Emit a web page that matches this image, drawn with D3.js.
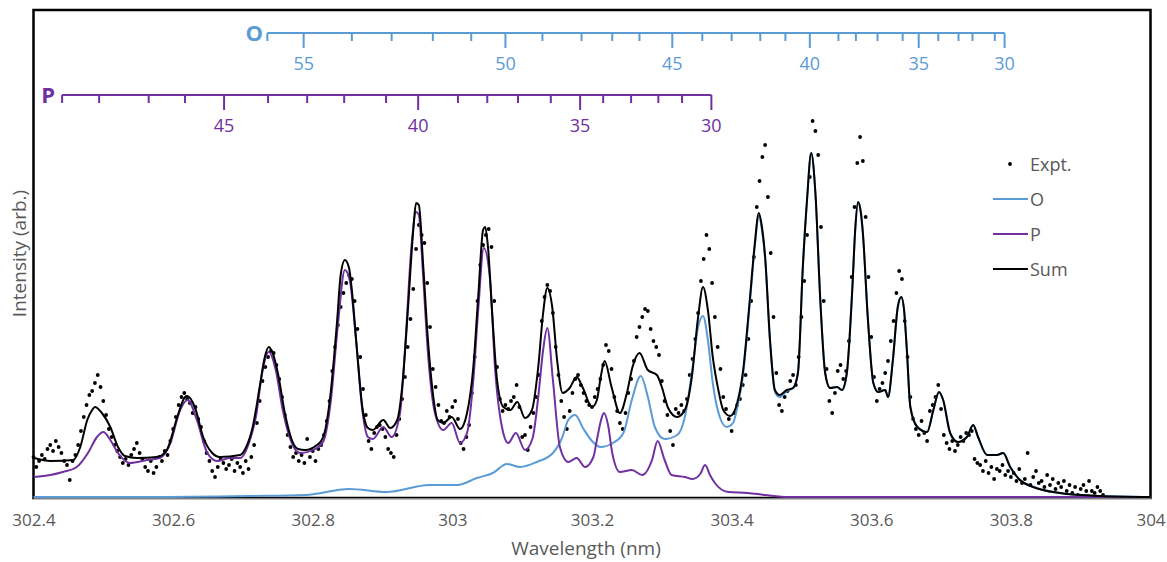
<!DOCTYPE html>
<html>
<head>
<meta charset="utf-8">
<script src="https://cdn.jsdelivr.net/npm/d3@7"></script>
<style>
  body { margin: 0; background: #fff; }
  text { font-family: "Open Sans", "Noto Sans", sans-serif; }
</style>
</head>
<body>
<svg id="chart" width="1167" height="562"></svg>
<script>
// x tick labels of the wavelength axis (nm)
const xTicks = [302.4, 302.6, 302.8, 303, 303.2, 303.4, 303.6, 303.8, 304];

// rotational line positions, O branch (J, nm)
const oLineJ  = [56, 55, 54, 53, 52, 51, 50, 49, 48, 47, 46, 45, 44, 43, 42, 41, 40, 39, 38, 37, 36, 35, 34, 33, 32, 31, 30];
const oLineWl = [302.735, 302.787, 302.856, 302.913, 302.972, 303.027, 303.076, 303.129, 303.185, 303.229, 303.268, 303.315, 303.358, 303.400, 303.441, 303.477, 303.512, 303.553, 303.578, 303.609, 303.645, 303.668, 303.696, 303.725, 303.745, 303.777, 303.791];

// rotational line positions, P branch (J, nm)
const pLineJ  = [49, 48, 47, 46, 45, 44, 43, 42, 41, 40, 39, 38, 37, 36, 35, 34, 33, 32, 31, 30];
const pLineWl = [302.441, 302.494, 302.565, 302.617, 302.673, 302.736, 302.792, 302.845, 302.905, 302.951, 303.008, 303.050, 303.094, 303.141, 303.183, 303.216, 303.256, 303.295, 303.329, 303.371];

// simulated O branch [nm, intensity]
const oCurve = [
  [302.400, 0], [302.567, 0], [302.710, 1], [302.790, 2], [302.852, 8], [302.906, 5], [302.967, 12],
  [303.007, 12], [303.035, 19], [303.058, 24], [303.078, 33], [303.097, 30], [303.121, 35], [303.144, 44],
  [303.157, 59], [303.166, 77], [303.176, 82], [303.187, 69], [303.200, 56], [303.212, 50], [303.230, 54],
  [303.245, 64], [303.257, 97], [303.270, 121], [303.280, 100], [303.290, 70], [303.304, 58], [303.322, 62],
  [303.333, 80], [303.343, 124], [303.352, 170], [303.359, 181], [303.366, 157], [303.373, 114], [303.383, 80],
  [303.393, 70], [303.402, 74], [303.408, 89], [303.416, 120], [303.426, 193], [303.433, 249], [303.439, 281],
  [303.443, 269], [303.448, 238], [303.455, 155], [303.462, 105], [303.469, 100], [303.479, 106], [303.488, 109],
  [303.495, 124], [303.502, 230], [303.508, 297], [303.514, 344], [303.520, 304], [303.527, 197], [303.534, 124],
  [303.541, 109], [303.551, 110], [303.558, 107], [303.565, 124], [303.573, 210], [303.577, 267], [303.581, 295],
  [303.585, 285], [303.588, 264], [303.595, 180], [303.603, 114], [303.610, 105], [303.620, 107], [303.624, 100],
  [303.631, 137], [303.638, 190], [303.643, 200], [303.647, 187], [303.651, 147], [303.656, 90], [303.666, 70],
  [303.680, 65], [303.689, 87], [303.697, 105], [303.703, 97], [303.713, 64], [303.724, 55], [303.737, 60],
  [303.746, 72], [303.753, 60], [303.766, 42], [303.780, 42], [303.789, 44], [303.799, 30], [303.813, 17],
  [303.832, 10], [303.870, 4], [303.928, 1], [304.000, 0]
];

// simulated P branch [nm, intensity]
const pCurve = [
  [302.401, 20], [302.424, 22], [302.442, 25], [302.462, 30], [302.478, 44], [302.491, 60], [302.500, 65],
  [302.510, 57], [302.521, 44], [302.538, 34], [302.563, 37], [302.581, 39], [302.596, 54], [302.610, 87],
  [302.621, 97], [302.634, 77], [302.649, 44], [302.663, 36], [302.682, 39], [302.696, 39], [302.710, 57],
  [302.719, 82], [302.727, 122], [302.737, 145], [302.747, 127], [302.757, 87], [302.770, 54], [302.782, 44],
  [302.806, 49], [302.816, 57], [302.826, 97], [302.836, 172], [302.846, 227], [302.853, 217], [302.862, 157],
  [302.871, 87], [302.879, 60], [302.886, 58], [302.901, 70], [302.913, 60], [302.925, 84], [302.933, 157],
  [302.941, 247], [302.948, 285], [302.952, 282], [302.958, 222], [302.965, 144], [302.975, 84], [302.987, 67],
  [302.999, 74], [303.011, 54], [303.021, 64], [303.030, 117], [303.037, 187], [303.045, 249], [303.054, 217],
  [303.061, 130], [303.071, 70], [303.080, 54], [303.091, 64], [303.104, 47], [303.115, 59], [303.123, 100],
  [303.130, 147], [303.136, 169], [303.144, 117], [303.154, 50], [303.166, 35], [303.178, 39], [303.190, 30],
  [303.202, 40], [303.207, 57], [303.213, 77], [303.217, 84], [303.223, 72], [303.229, 44], [303.240, 25],
  [303.257, 27], [303.272, 22], [303.286, 37], [303.294, 56], [303.304, 37], [303.314, 22], [303.333, 20],
  [303.344, 18], [303.355, 23], [303.362, 32], [303.369, 22], [303.376, 14], [303.395, 5], [303.423, 4],
  [303.448, 2], [303.481, 0], [304.000, 0]
];

// fitted sum [nm, intensity]
const sumCurve = [
  [302.401, 39], [302.424, 36], [302.457, 37], [302.467, 50], [302.477, 77], [302.484, 87], [302.488, 90],
  [302.498, 84], [302.510, 70], [302.521, 50], [302.531, 41], [302.548, 39], [302.577, 40], [302.591, 47],
  [302.606, 80], [302.617, 100], [302.620, 101], [302.631, 90], [302.643, 60], [302.656, 44], [302.667, 40],
  [302.696, 42], [302.704, 49], [302.714, 70], [302.724, 110], [302.731, 139], [302.737, 150], [302.742, 145],
  [302.750, 124], [302.760, 84], [302.770, 57], [302.779, 48], [302.789, 47], [302.806, 52], [302.815, 60],
  [302.825, 100], [302.835, 177], [302.840, 222], [302.846, 237], [302.852, 229], [302.856, 207], [302.863, 150],
  [302.871, 90], [302.879, 69], [302.886, 67], [302.901, 77], [302.911, 69], [302.921, 77], [302.929, 117],
  [302.936, 184], [302.944, 267], [302.948, 294], [302.952, 292], [302.958, 234], [302.965, 157], [302.972, 104],
  [302.979, 77], [302.987, 74], [302.999, 80], [303.011, 68], [303.021, 84], [303.030, 130], [303.037, 200],
  [303.044, 267], [303.047, 270], [303.051, 250], [303.057, 184], [303.064, 117], [303.073, 90], [303.083, 87],
  [303.093, 95], [303.104, 79], [303.114, 87], [303.123, 130], [303.130, 184], [303.136, 209], [303.143, 190],
  [303.150, 137], [303.158, 104], [303.168, 109], [303.178, 120], [303.187, 109], [303.200, 90], [303.207, 97],
  [303.213, 122], [303.218, 136], [303.228, 110], [303.240, 84], [303.250, 104], [303.258, 130], [303.268, 144],
  [303.280, 127], [303.293, 122], [303.300, 110], [303.309, 89], [303.322, 80], [303.333, 87], [303.343, 120],
  [303.352, 180], [303.359, 210], [303.366, 187], [303.373, 140], [303.381, 107], [303.388, 87], [303.398, 81],
  [303.408, 94], [303.416, 124], [303.426, 197], [303.433, 252], [303.439, 284], [303.443, 272], [303.448, 240],
  [303.455, 157], [303.462, 107], [303.469, 102], [303.479, 107], [303.488, 109], [303.495, 124], [303.502, 230],
  [303.508, 297], [303.514, 344], [303.520, 304], [303.527, 197], [303.534, 124], [303.541, 109], [303.551, 110],
  [303.558, 107], [303.565, 124], [303.573, 210], [303.577, 267], [303.581, 295], [303.585, 285], [303.588, 264],
  [303.595, 180], [303.603, 114], [303.610, 105], [303.620, 107], [303.624, 100], [303.631, 137], [303.638, 190],
  [303.643, 200], [303.647, 187], [303.651, 147], [303.656, 90], [303.666, 70], [303.680, 65], [303.689, 87],
  [303.697, 105], [303.703, 97], [303.713, 64], [303.724, 55], [303.737, 60], [303.746, 72], [303.753, 60],
  [303.766, 42], [303.780, 42], [303.789, 44], [303.799, 30], [303.813, 17], [303.832, 10], [303.870, 4],
  [303.928, 1], [304.000, 0]
];

// experimental spectrum, sampled every 0.004 nm from 302.400 nm
const exptStart = 302.4;
const exptStep = 0.004;
const exptIntensity = [
  40, 30, 36, 42, 38, 48, 52, 46, 56, 50, 44, 36, 32, 17, 36, 42, 52, 66, 80, 92,
  102, 106, 114, 122, 110, 96, 82, 68, 60, 52, 46, 40, 34, 38, 32, 42, 48, 54, 44, 38,
  30, 26, 36, 24, 30, 40, 36, 46, 42, 56, 68, 80, 92, 100, 104, 98, 94, 84, 90, 78,
  70, 56, 44, 36, 26, 20, 30, 38, 34, 28, 32, 38, 26, 34, 30, 24, 36, 28, 40, 52,
  74, 96, 116, 130, 140, 146, 144, 132, 118, 100, 82, 62, 50, 40, 44, 36, 42, 34, 58, 40,
  46, 36, 48, 52, 62, 76, 96, 126, 150, 172, 190, 204, 214, 222, 218, 196, 168, 140, 108, 82,
  56, 48, 64, 70, 72, 68, 60, 48, 44, 40, 62, 78, 98, 120, 150, 178, 208, 248, 272, 262,
  254, 214, 170, 128, 110, 92, 76, 74, 86, 80, 90, 96, 78, 54, 48, 60, 72, 104, 140, 196,
  232, 252, 262, 268, 250, 196, 130, 98, 86, 92, 88, 96, 100, 112, 90, 60, 62, 47, 70, 84,
  100, 122, 176, 200, 212, 206, 184, 150, 122, 96, 80, 68, 86, 104, 118, 122, 112, 104, 96, 92,
  90, 100, 108, 118, 132, 152, 146, 128, 100, 86, 74, 68, 84, 104, 118, 136, 160, 170, 180, 188,
  186, 168, 156, 150, 142, 116, 96, 82, 66, 52, 88, 84, 92, 86, 98, 122, 138, 158, 184, 216,
  238, 262, 248, 214, 180, 150, 128, 100, 88, 78, 66, 84, 92, 98, 112, 122, 158, 196, 240, 290,
  316, 340, 352, 300, 244, 180, 124, 92, 86, 100, 106, 116, 122, 112, 140, 180, 216, 262, 320, 376,
  366, 342, 270, 196, 128, 96, 84, 104, 126, 132, 118, 126, 156, 220, 290, 334, 360, 336, 280, 220,
  160, 120, 96, 108, 114, 124, 136, 156, 176, 204, 226, 218, 176, 140, 100, 78, 68, 62, 76, 64,
  56, 86, 92, 100, 112, 88, 62, 54, 48, 56, 46, 52, 60, 56, 64, 62, 66, 38, 34, 32,
  26, 36, 24, 30, 18, 28, 26, 32, 22, 26, 20, 24, 16, 28, 14, 18, 44, 12, 20, 26,
  14, 16, 10, 22, 12, 18, 8, 14, 10, 16, 6, 12, 4, 10, 2, 8, 12, 6, 16, 6,
  4, 10, 6, 2
];

const legendItems = ["Expt.", "O", "P", "Sum"];

const colors = { expt: "#000000", O: "#5B9BD5", P: "#7030A0", Sum: "#000000" };
const textGray = "#595959";

const svg = d3.select("#chart");

const x = d3.scaleLinear().domain([302.4, 304]).range([33.5, 1150.5]);
const y = d3.scaleLinear().domain([0, 487]).range([497, 10]);

// plot frame
svg.append("rect")
  .attr("x", x(302.4)).attr("y", 10)
  .attr("width", x(304) - x(302.4)).attr("height", y(0) - 10 + 1)
  .attr("fill", "none").attr("stroke", "#000").attr("stroke-width", 2.5);

// bottom axis
const xAxis = svg.append("g")
  .attr("transform", `translate(0,${y(0) + 1})`)
  .call(d3.axisBottom(x).tickValues(xTicks).tickSize(0).tickPadding(16)
    .tickFormat(d => String(+d.toFixed(1))));
xAxis.select(".domain").attr("stroke", "#808080").attr("stroke-width", 1);
xAxis.selectAll("text").attr("font-size", 17).attr("fill", textGray)
  .style("font-family", '"Open Sans", sans-serif');

svg.append("text")
  .attr("x", 586).attr("y", 555)
  .attr("text-anchor", "middle").attr("font-size", 19).attr("fill", textGray)
  .text("Wavelength (nm)");

svg.append("text")
  .attr("transform", `translate(26,${(10 + 497) / 2}) rotate(-90)`)
  .attr("text-anchor", "middle").attr("font-size", 19).attr("fill", textGray)
  .text("Intensity (arb.)");

// branch scales (J labels above the spectrum)
const drawBranch = (name, js, wls, yPos, color, labelX) => {
  const g = svg.append("g").attr("transform", `translate(0,${yPos})`);
  g.append("line")
    .attr("x1", x(d3.min(wls))).attr("x2", x(d3.max(wls)))
    .attr("stroke", color).attr("stroke-width", 2);
  const ticks = js.map((j, i) => ({ j, wl: wls[i], major: j % 5 === 0 }));
  g.selectAll("line.tick").data(ticks).join("line")
    .attr("class", "tick")
    .attr("x1", d => x(d.wl)).attr("x2", d => x(d.wl))
    .attr("y1", 0).attr("y2", d => d.major ? 15 : 8)
    .attr("stroke", color).attr("stroke-width", 2);
  g.selectAll("text.lab").data(ticks.filter(d => d.major)).join("text")
    .attr("class", "lab")
    .attr("x", d => x(d.wl)).attr("y", 37)
    .attr("text-anchor", "middle").attr("font-size", 18).attr("fill", color)
    .text(d => d.j);
  g.append("text")
    .attr("x", labelX).attr("y", 8)
    .attr("text-anchor", "end").attr("font-size", 22).attr("font-weight", "bold")
    .attr("fill", color).text(name);
};
drawBranch("O", oLineJ, oLineWl, 33, colors.O, 263);
drawBranch("P", pLineJ, pLineWl, 95, colors.P, 55);

// experimental points
const exptData = exptIntensity.map((v, i) => [exptStart + i * exptStep, v]);
svg.append("g").selectAll("circle").data(exptData).join("circle")
  .attr("cx", d => x(d[0])).attr("cy", d => y(d[1]))
  .attr("r", 1.9).attr("fill", colors.expt);

// simulated curves
const line = d3.line().x(d => x(d[0])).y(d => y(d[1])).curve(d3.curveMonotoneX);
[[oCurve, colors.O], [pCurve, colors.P], [sumCurve, colors.Sum]].forEach(([data, c]) => {
  svg.append("path").datum(data)
    .attr("d", line).attr("fill", "none")
    .attr("stroke", c).attr("stroke-width", 2);
});

// legend
const legend = svg.append("g").attr("transform", "translate(993,164)");
legendItems.forEach((name, i) => {
  const row = legend.append("g").attr("transform", `translate(0,${i * 35})`);
  if (name === "Expt.") {
    row.append("circle").attr("cx", 17).attr("cy", 0).attr("r", 1.9).attr("fill", colors.expt);
  } else {
    row.append("line").attr("x1", 0).attr("x2", 35).attr("y1", 0).attr("y2", 0)
      .attr("stroke", colors[name]).attr("stroke-width", 2);
  }
  row.append("text").attr("x", 37).attr("y", 6.5)
    .attr("font-size", 18).attr("fill", textGray).text(name);
});
</script>
</body>
</html>
